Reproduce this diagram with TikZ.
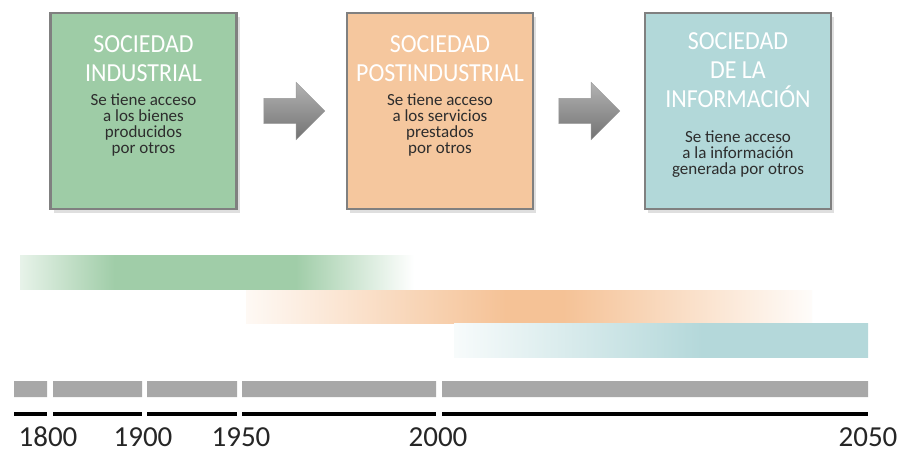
\documentclass[tikz,border=0pt]{standalone}
\usepackage{fontspec}
\setmainfont{Carlito}
\newfontfamily\ttlfont[FakeStretch=0.92]{Carlito}
\usetikzlibrary{shapes.arrows,shadows}

\definecolor{grnbox}{RGB}{158,204,166}
\definecolor{orgbox}{RGB}{245,199,158}
\definecolor{tealbox}{RGB}{178,216,217}
\definecolor{grnbar}{RGB}{160,205,168}
\definecolor{orgbar}{RGB}{245,194,150}
\definecolor{tealbar}{RGB}{180,216,218}
\definecolor{tlgray}{RGB}{168,168,168}
\definecolor{bodytxt}{RGB}{45,45,45}

\pgfdeclarehorizontalshading{grnfade}{100bp}{color(0bp)=(grnbar!25); color(25bp)=(grnbar!25); color(37bp)=(grnbar); color(60bp)=(grnbar); color(75bp)=(white); color(100bp)=(white)}
\pgfdeclarehorizontalshading{orgfade}{100bp}{color(0bp)=(orgbar!10); color(25bp)=(orgbar!10); color(48bp)=(orgbar); color(53bp)=(orgbar); color(75bp)=(orgbar!5); color(100bp)=(orgbar!5)}
\pgfdeclarehorizontalshading{tealfade}{100bp}{color(0bp)=(tealbar!10); color(25bp)=(tealbar!10); color(55bp)=(tealbar); color(75bp)=(tealbar); color(100bp)=(tealbar)}

\newcommand{\boxw}{186}
\newcommand{\boxh}{196}
\newcommand{\bx}{\node[rectangle, draw=black!50, line width=2.5pt, minimum width=\boxw, minimum height=\boxh, inner sep=0pt, drop shadow={shadow xshift=3pt, shadow yshift=-4pt, opacity=0.25}]}
\newcommand{\ttl}{\node[font=\ttlfont\fontsize{26}{29}\selectfont, text=white, align=center, inner sep=0pt, anchor=north]}
\newcommand{\txt}{\node[font=\fontsize{17}{16}\selectfont, text=bodytxt, align=center, inner sep=0pt, anchor=north]}
\newcommand{\arw}{\node[single arrow, minimum height=61, minimum width=57, single arrow head extend=16, inner xsep=0pt, inner ysep=12.5pt, top color=black!30, bottom color=black!55, draw=black!40, thin]}
\newcommand{\yr}{\node[font=\fontsize{29}{29}\selectfont, text=black!85, anchor=base, inner sep=0pt]}

\begin{document}
\begin{tikzpicture}[x=1pt, y=-1pt]
            \useasboundingbox[fill=white] (0,0) rectangle (906,453);

            % the three societies
            \bx[fill=grnbox] (ind) at (143.5, 111) {};
            \bx[fill=orgbox] (post) at (440, 111) {};
            \bx[fill=tealbox] (info) at (738, 111) {};

            \ttl (ind-t) at (143.5, 35) {SOCIEDAD\\INDUSTRIAL};
            \txt (ind-b) at (143.5, 94) {Se tiene acceso\\a los bienes\\producidos\\por otros};
            \ttl (post-t) at (440, 35) {SOCIEDAD\\POSTINDUSTRIAL};
            \txt (post-b) at (440, 94) {Se tiene acceso\\a los servicios\\prestados\\por otros};
            \ttl (info-t) at (738, 32) {SOCIEDAD\\DE LA\\INFORMACIÓN};
            \txt (info-b) at (738, 131) {Se tiene acceso\\a la información\\generada por otros};

            \arw (a1) at (288, 111) {};
            \arw (a2) at (583, 111) {};

            % periods
            \shade[shading=grnfade] (20,255) rectangle (414,289);
            \shade[shading=orgfade] (246,290) rectangle (812,323);
            \shade[shading=tealfade] (454,323) rectangle (868,357);

            % time line
            \fill[tlgray]
                (14,381) rectangle (47,397)
                (53,381) rectangle (142,397)
                (147,381) rectangle (237,397)
                (242,381) rectangle (436,397)
                (442,381) rectangle (868,397)
                ;

            \draw[line width=3.5pt]
                (14,414) -- (47,414)
                (53,414) -- (142,414)
                (147,414) -- (237,414)
                (242,414) -- (436,414)
                (442,414) -- (868,414)
                ;

            \yr (y1800) at (48, 446) {1800};
            \yr (y1900) at (143, 446) {1900};
            \yr (y1950) at (241, 446) {1950};
            \yr (y2000) at (438, 446) {2000};
            \yr (y2050) at (868, 446) {2050};
        \end{tikzpicture}
\end{document}
